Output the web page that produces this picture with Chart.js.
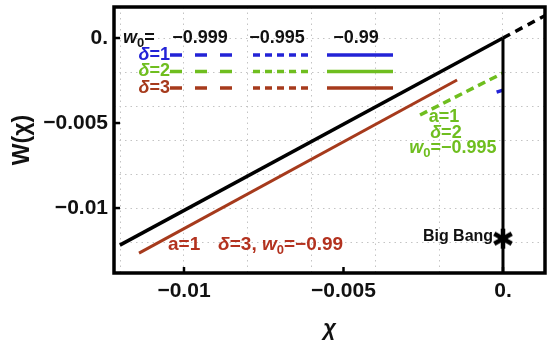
<!DOCTYPE html>
<html>
<head>
<meta charset="utf-8">
<script src="https://cdn.jsdelivr.net/npm/chart.js@4/dist/chart.umd.min.js"></script>
<style>
  html, body { margin: 0; padding: 0; background: #fff; }
</style>
</head>
<body>
<canvas id="chart" width="550" height="347"></canvas>
<script>
// axis ranges and ticks
const X_MIN = -0.012194, X_MAX = 0.001317;
const Y_MIN = -0.01382, Y_MAX = 0.001824;
const X_LABEL_TICKS = [-0.01, -0.005, 0];
const Y_LABEL_TICKS = [0, -0.005, -0.01];
const X_GRID_TICKS = [-0.012, -0.01, -0.008, -0.006, -0.004, -0.002, 0];
const Y_GRID_TICKS = [0, -0.002, -0.004, -0.006, -0.008, -0.01, -0.012];

// curves (chi, W)
const lcdmChi = [-0.01201, 0];
const lcdmW = [-0.01218, 0];
const futureChi = [0, 0.0016];
const futureW = [0, 0.0016];
const bangLineChi = [0, 0];
const bangLineW = [0, -0.015];
const d3Chi = [-0.01141, -0.00144];
const d3W = [-0.01265, -0.00247];
const d2Chi = [-0.0026, 0];
const d2W = [-0.00453, -0.00206];
const d1Chi = [-0.0002, 0];
const d1W = [-0.00318, -0.00306];
const bangChi = [0];
const bangW = [-0.0118];

// legend
const w0Values = ['\u22120.999', '\u22120.995', '\u22120.99'];
const deltaValues = [1, 2, 3];

const BLUE = '#2323d6';
const GREEN = '#6fbe1f';
const BROWN = '#a63a1c';
const RED_TXT = '#b3321f';
const GRID = '#c4c4c4';
const FONT = "'Liberation Sans', Arial, Helvetica, sans-serif";

const pts = (xs, ys) => xs.map((x, i) => ({ x, y: ys[i] }));
const near = (list, v) => list.some(t => Math.abs(t - v) < 1e-9);
const fmt = v => (Math.abs(v) < 1e-12 ? '0.' : '\u2212' + Math.abs(v));

function asterisk(size, lw) {
  const c = document.createElement('canvas');
  c.width = c.height = size;
  const g = c.getContext('2d');
  g.strokeStyle = '#000';
  g.lineWidth = lw;
  const r = size / 2 - 1;
  [90, 30, 150].forEach(a => {
    const t = a * Math.PI / 180;
    g.beginPath();
    g.moveTo(size / 2 - r * Math.cos(t), size / 2 - r * Math.sin(t));
    g.lineTo(size / 2 + r * Math.cos(t), size / 2 + r * Math.sin(t));
    g.stroke();
  });
  return c;
}

// draw text made of pieces: {t, it, sub}
function rich(ctx, x, y, parts, color, size, align) {
  ctx.save();
  ctx.fillStyle = color;
  ctx.textBaseline = 'middle';
  ctx.textAlign = 'left';
  const fontOf = p => (p.it ? 'italic ' : '') + 'bold ' + (p.sub ? Math.round(size * 0.7) : size) + 'px ' + FONT;
  let w = 0;
  parts.forEach(p => { ctx.font = fontOf(p); w += ctx.measureText(p.t).width; });
  let cx = align === 'center' ? x - w / 2 : align === 'right' ? x - w : x;
  parts.forEach(p => {
    ctx.font = fontOf(p);
    ctx.fillText(p.t, cx, p.sub ? y + size * 0.3 : y);
    cx += ctx.measureText(p.t).width;
  });
  ctx.restore();
}

const notes = [
  { x: -0.00185, y: -0.00465, c: GREEN, s: 18, a: 'center', parts: [{ t: 'a=1' }] },
  { x: -0.00179, y: -0.00559, c: GREEN, s: 18, a: 'center', parts: [{ t: '\u03b4', it: true }, { t: '=2' }] },
  { x: -0.00157, y: -0.00647, c: GREEN, s: 18, a: 'center', parts: [{ t: 'w', it: true }, { t: '0', sub: true }, { t: '=\u22120.995' }] },
  { x: -0.0105, y: -0.01218, c: RED_TXT, s: 19, a: 'left', parts: [{ t: 'a=1' }] },
  { x: -0.00893, y: -0.01218, c: RED_TXT, s: 19, a: 'left', parts: [{ t: '\u03b4', it: true }, { t: '=3, ' }, { t: 'w', it: true }, { t: '0', sub: true }, { t: '=\u22120.99' }] },
  { x: -0.00031, y: -0.0117, c: '#111', s: 16, a: 'right', parts: [{ t: 'Big Bang' }] },
];

const decor = {
  id: 'decor',
  afterDatasetsDraw(chart) {
    const { ctx, chartArea: a, scales: { x, y } } = chart;
    ctx.save();
    ctx.strokeStyle = '#000';
    ctx.lineWidth = 3.5;
    ctx.strokeRect(a.left, a.top, a.right - a.left, a.bottom - a.top);
    ctx.lineWidth = 2.5;
    X_LABEL_TICKS.forEach(v => {
      const px = x.getPixelForValue(v);
      ctx.beginPath(); ctx.moveTo(px, a.bottom); ctx.lineTo(px, a.bottom - 6); ctx.stroke();
    });
    Y_LABEL_TICKS.forEach(v => {
      const py = y.getPixelForValue(v);
      ctx.beginPath(); ctx.moveTo(a.left, py); ctx.lineTo(a.left + 6, py); ctx.stroke();
    });
    ctx.restore();

    // legend table
    const L = a.left, T = a.top;
    rich(ctx, L + 9, T + 31, [{ t: 'w', it: true }, { t: '0', sub: true }, { t: '=' }], '#111', 18, 'left');
    const colX = [L + 86, L + 163, L + 242];
    w0Values.forEach((s, i) => rich(ctx, colX[i], T + 31, [{ t: s }], '#111', 18, 'center'));
    const colors = [BLUE, GREEN, BROWN];
    const dashes = [[12, 13], [7, 5], []];
    const spans = [[L + 56, L + 118], [L + 139, L + 198], [L + 213, L + 279]];
    deltaValues.forEach((d, r) => {
      const yy = T + 48 + r * 16.5;
      rich(ctx, L + 56, yy, [{ t: '\u03b4', it: true }, { t: '=' + d }], colors[r], 18, 'right');
      spans.forEach((sp, c) => {
        ctx.save();
        ctx.strokeStyle = colors[r];
        ctx.lineWidth = 3.5;
        ctx.setLineDash(dashes[c]);
        ctx.beginPath(); ctx.moveTo(sp[0], yy); ctx.lineTo(sp[1], yy); ctx.stroke();
        ctx.restore();
      });
    });

    notes.forEach(n => rich(ctx, x.getPixelForValue(n.x), y.getPixelForValue(n.y), n.parts, n.c, n.s, n.a));
  }
};

const line = (data, color, width, dash) => ({
  data, borderColor: color, borderWidth: width, borderDash: dash || [],
  showLine: true, pointRadius: 0, fill: false, tension: 0,
});

new Chart(document.getElementById('chart'), {
  type: 'scatter',
  data: {
    datasets: [
      line(pts(lcdmChi, lcdmW), '#000', 3.5),
      line(pts(futureChi, futureW), '#000', 3.5, [8, 6]),
      line(pts(bangLineChi, bangLineW), '#000', 3),
      line(pts(d3Chi, d3W), BROWN, 3),
      line(pts(d2Chi, d2W), GREEN, 3.5, [8, 5]),
      line(pts(d1Chi, d1W), BLUE, 3.5),
      {
        data: pts(bangChi, bangW), showLine: false,
        pointStyle: asterisk(22, 4.5), pointRadius: 11,
      },
    ],
  },
  options: {
    responsive: false,
    animation: false,
    layout: { autoPadding: false, padding: { top: 7, right: 5, left: 0, bottom: 0 } },
    plugins: { legend: { display: false }, tooltip: { enabled: false } },
    scales: {
      x: {
        type: 'linear', min: X_MIN, max: X_MAX,
        afterBuildTicks: s => { s.ticks = [...new Set([...X_GRID_TICKS, ...X_LABEL_TICKS])].sort((p, q) => p - q).map(v => ({ value: v })); },
        afterFit: s => { s.height = 74; s.paddingLeft = 0; s.paddingRight = 0; },
        ticks: {
          autoSkip: false, maxRotation: 0, padding: 6, color: '#111',
          font: { family: FONT, size: 21, weight: 'bold' },
          callback: v => (near(X_LABEL_TICKS, v) ? fmt(v) : ''),
        },
        grid: {
          drawTicks: false, lineWidth: 1,
          color: c => (c.tick && near(X_GRID_TICKS, c.tick.value) ? GRID : 'rgba(0,0,0,0)'),
        },
        border: { display: false, dash: [1.5, 4] },
        title: {
          display: true, text: '\u03c7', color: '#111', padding: { top: 0, bottom: 5 },
          font: { family: FONT, size: 22, weight: 'bold', style: 'italic' },
        },
      },
      y: {
        type: 'linear', min: Y_MIN, max: Y_MAX,
        afterBuildTicks: s => { s.ticks = [...new Set([...Y_GRID_TICKS, ...Y_LABEL_TICKS])].sort((p, q) => p - q).map(v => ({ value: v })); },
        afterFit: s => { s.width = 114; s.paddingTop = 0; s.paddingBottom = 0; },
        ticks: {
          autoSkip: false, padding: 6, color: '#111',
          font: { family: FONT, size: 21, weight: 'bold' },
          callback: v => (near(Y_LABEL_TICKS, v) ? fmt(v) : ''),
        },
        grid: {
          drawTicks: false, lineWidth: 1,
          color: c => (c.tick && near(Y_GRID_TICKS, c.tick.value) ? GRID : 'rgba(0,0,0,0)'),
        },
        border: { display: false, dash: [1.5, 4] },
        title: {
          display: true, text: 'W(\u03c7)', color: '#111', padding: { top: 9, bottom: 0 },
          font: { family: FONT, size: 23, weight: 'bold' },
        },
      },
    },
  },
  plugins: [decor],
});
</script>
</body>
</html>
